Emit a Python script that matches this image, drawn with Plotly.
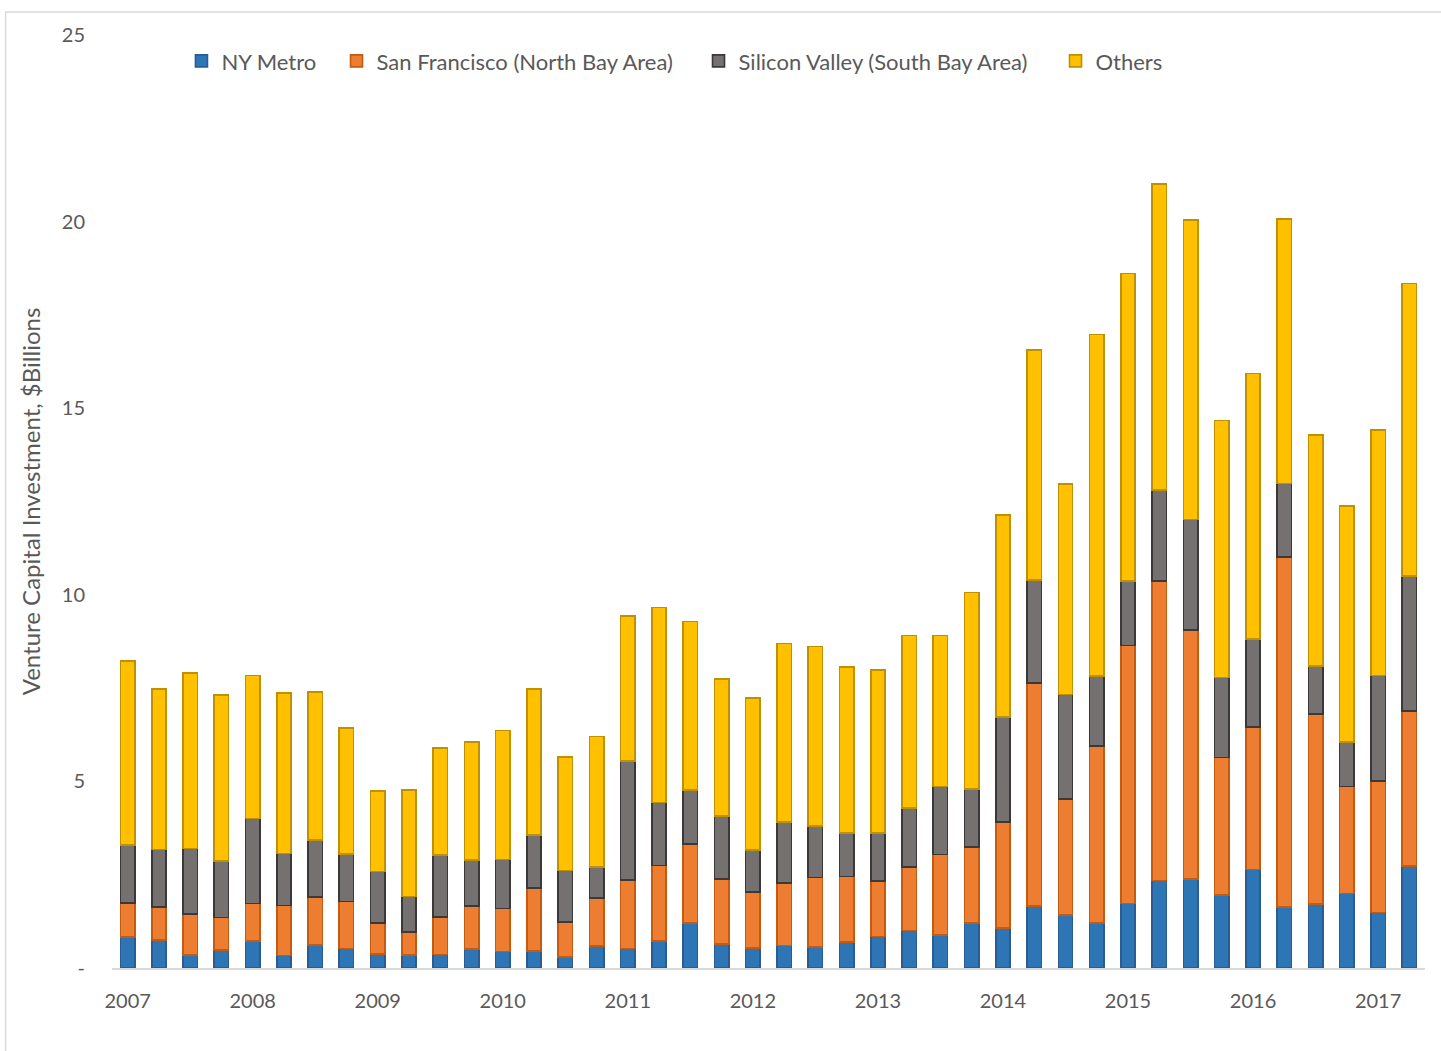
import plotly.graph_objects as go

years = list(range(2007, 2018))
quarters = [f"{y} Q{q}" for y in years for q in range(1, 5)][:42]
year_ticks = [f"{y} Q1" for y in years]
year_labels = [str(y) for y in years]

ny_metro = [0.83, 0.75, 0.35, 0.48, 0.73, 0.34, 0.61, 0.52, 0.38, 0.35,
            0.36, 0.51, 0.44, 0.45, 0.30, 0.59, 0.52, 0.72, 1.20, 0.65,
            0.53, 0.60, 0.57, 0.70, 0.84, 1.00, 0.88, 1.20, 1.07, 1.66,
            1.42, 1.21, 1.73, 2.34, 2.38, 1.96, 2.64, 1.63, 1.71, 2.00,
            1.49, 2.74]
san_francisco = [0.91, 0.88, 1.09, 0.87, 1.00, 1.34, 1.29, 1.26, 0.83, 0.61,
                 1.01, 1.15, 1.15, 1.69, 0.94, 1.28, 1.84, 2.03, 2.12, 1.74,
                 1.51, 1.67, 1.86, 1.75, 1.49, 1.71, 2.16, 2.04, 2.85, 5.98,
                 3.11, 4.74, 6.91, 8.03, 6.68, 3.68, 3.81, 9.38, 5.10, 2.86,
                 3.52, 4.14]
silicon_valley = [1.56, 1.55, 1.76, 1.51, 2.28, 1.39, 1.53, 1.27, 1.38, 0.96,
                  1.66, 1.23, 1.32, 1.43, 1.37, 0.84, 3.19, 1.68, 1.45, 1.68,
                  1.12, 1.65, 1.38, 1.16, 1.28, 1.57, 1.82, 1.56, 2.81, 2.76,
                  2.80, 1.88, 1.73, 2.44, 2.96, 2.14, 2.37, 1.97, 1.29, 1.20,
                  2.83, 3.62]
others = [4.93, 4.30, 4.71, 4.45, 3.83, 4.30, 3.96, 3.38, 2.16, 2.85,
          2.86, 3.17, 3.45, 3.90, 3.05, 3.49, 3.89, 5.23, 4.51, 3.67,
          4.07, 4.78, 4.80, 4.46, 4.37, 4.63, 4.05, 5.26, 5.41, 6.16,
          5.64, 9.14, 8.24, 8.20, 8.02, 6.89, 7.11, 7.09, 6.18, 6.32,
          6.58, 7.84]

y_tickvals = [0, 5, 10, 15, 20, 25]
y_ticktext = ["-", "5", "10", "15", "20", "25"]

series = [
    ("NY Metro", ny_metro, "#2E75B6", "#2A5C94", "legend", 0.0529),
    ("San Francisco (North Bay Area)", san_francisco, "#ED7D31", "#C55A11", "legend2", 0.1710),
    ("Silicon Valley (South Bay Area)", silicon_valley, "#767171", "#3A3838", "legend3", 0.4467),
    ("Others", others, "#FFC000", "#BF9000", "legend4", 0.7186),
]

FONT = "Lato, 'Open Sans', sans-serif"
TXT = "#595959"

fig = go.Figure()
legend_layouts = {}
for name, vals, fill, line, lg, lx in series:
    fig.add_trace(go.Bar(
        x=quarters, y=vals, name=name, legend=lg, showlegend=True,
        marker=dict(color=fill, line=dict(color=line, width=1.6)),
    ))
    legend_layouts[lg] = dict(
        orientation="h", x=lx, y=0.972, xanchor="left", yanchor="middle",
        font=dict(family=FONT, size=22, color=TXT),
        bgcolor="rgba(0,0,0,0)", visible=True,
    )

fig.update_layout(
    barmode="stack",
    bargap=0.54,
    showlegend=True,
    width=1441, height=1051,
    margin=dict(l=112, r=16, t=35, b=83),
    plot_bgcolor="white", paper_bgcolor="white",
    font=dict(family=FONT, size=20, color=TXT),
    xaxis=dict(
        type="category", categoryorder="array", categoryarray=quarters,
        tickmode="array", tickvals=year_ticks, ticktext=year_labels,
        showgrid=False, showline=True, linecolor="#D9D9D9", linewidth=2,
        ticks="", ticklabelstandoff=14, zeroline=False,
        tickfont=dict(family=FONT, size=20, color=TXT),
    ),
    yaxis=dict(
        range=[0, 25], tickmode="array", tickvals=y_tickvals, ticktext=y_ticktext,
        showgrid=False, showline=False, zeroline=False, ticks="",
        ticklabelstandoff=26,
        tickfont=dict(family=FONT, size=20, color=TXT),
        title=dict(text="Venture Capital Investment, $Billions",
                   font=dict(family=FONT, size=24, color=TXT), standoff=14),
    ),
    shapes=[dict(type="rect", xref="paper", yref="paper",
                 x0=-0.081, x1=1.2, y0=-0.2, y1=1.0246,
                 line=dict(color="#D9D9D9", width=1.5), fillcolor="rgba(0,0,0,0)",
                 layer="below")],
    **legend_layouts,
)

fig.write_html("out.html")
